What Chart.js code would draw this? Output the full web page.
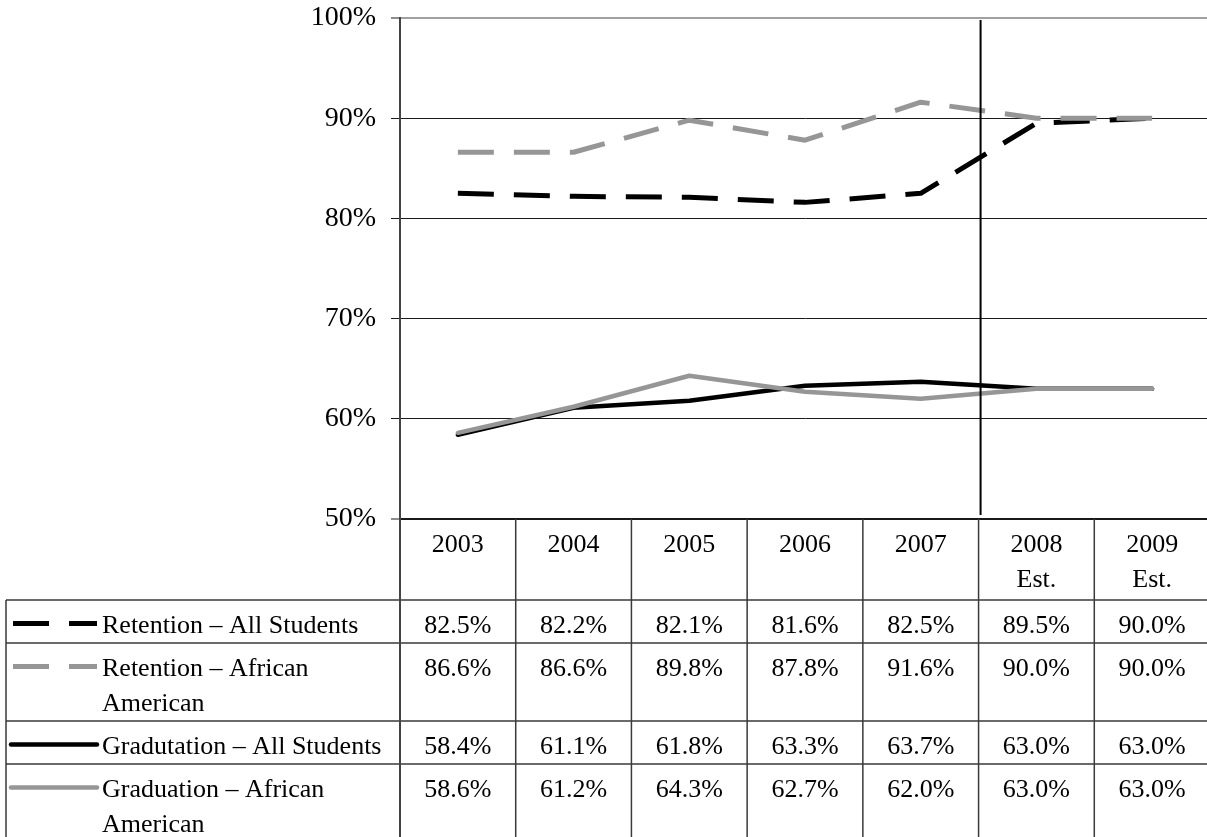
<!DOCTYPE html>
<html>
<head>
<meta charset="utf-8">
<script src="https://cdn.jsdelivr.net/npm/chart.js@4/dist/chart.umd.min.js"></script>
<style>
  html, body { margin: 0; padding: 0; overflow: hidden; background: #fff; }
  canvas { display: block; }
</style>
</head>
<body>
<canvas id="chart" width="1210" height="837"></canvas>
<script>
// Years shown on the category axis (estimates are split over two lines)
const categoryLabels = [['2003'], ['2004'], ['2005'], ['2006'], ['2007'], ['2008', 'Est.'], ['2009', 'Est.']];
const firstEstimateIndex = 5;

// Rates in percent
const retentionAll = [82.5, 82.2, 82.1, 81.6, 82.5, 89.5, 90.0];
const retentionAfricanAmerican = [86.6, 86.6, 89.8, 87.8, 91.6, 90.0, 90.0];
const graduationAll = [58.4, 61.1, 61.8, 63.3, 63.7, 63.0, 63.0];
const graduationAfricanAmerican = [58.6, 61.2, 64.3, 62.7, 62.0, 63.0, 63.0];

const seriesNames = [
  'Retention – All Students',
  'Retention – African American',
  'Gradutation – All Students',
  'Graduation – African American'
];

// Value axis
const yMin = 50;
const yMax = 100;
const yStep = 10;

const FONT_FAMILY = "'Liberation Serif', 'Times New Roman', serif";
const FONT_SIZE = 26;
const TICK_FONT_SIZE = 28;
const LINE_H = 35;
const BLACK = '#000000';
const GREY = '#969696';
const RULE = '#3a3a3a';

Chart.defaults.font.family = FONT_FAMILY;
Chart.defaults.font.size = FONT_SIZE;
Chart.defaults.color = BLACK;

function wrapText(ctx, text, maxWidth) {
  const words = text.split(' ');
  const lines = [];
  let line = '';
  for (const w of words) {
    const test = line ? line + ' ' + w : w;
    if (line && ctx.measureText(test).width > maxWidth) {
      lines.push(line);
      line = w;
    } else {
      line = test;
    }
  }
  if (line) lines.push(line);
  return lines;
}

// Vertical rule separating actual years from estimates
const estimateDivider = {
  id: 'estimateDivider',
  afterDatasetsDraw(chart) {
    const { ctx, chartArea, scales: { x } } = chart;
    const xPos = (x.getPixelForValue(firstEstimateIndex - 1) + x.getPixelForValue(firstEstimateIndex)) / 2 + 2;
    ctx.save();
    ctx.strokeStyle = BLACK;
    ctx.lineWidth = 2;
    ctx.beginPath();
    ctx.moveTo(xPos, chartArea.top + 2);
    ctx.lineTo(xPos, chartArea.bottom - 4);
    ctx.stroke();
    ctx.restore();
  }
};

// Data table under the plot: year header, legend keys and values
const dataTable = {
  id: 'dataTable',
  afterDraw(chart) {
    const { ctx, chartArea, scales: { x } } = chart;
    const tableLeft = 6;
    const axisX = chartArea.left;
    const right = chart.width;
    const top = chartArea.bottom;
    const textX = 102;

    ctx.save();
    ctx.font = FONT_SIZE + 'px ' + FONT_FAMILY;
    ctx.fillStyle = BLACK;
    ctx.textBaseline = 'alphabetic';

    // header row with years
    const headerLines = Math.max(...categoryLabels.map(l => l.length));
    ctx.textAlign = 'center';
    categoryLabels.forEach((lines, i) => {
      const cx = x.getPixelForValue(i);
      lines.forEach((t, j) => ctx.fillText(t, cx, top + 33 + LINE_H * j));
    });
    let y = top + 11 + LINE_H * headerLines;
    const rowLines = [y];

    chart.data.datasets.forEach((ds) => {
      const lines = wrapText(ctx, ds.label, axisX - textX - 8);
      const h = 8 + LINE_H * lines.length;

      // legend key
      ctx.save();
      ctx.strokeStyle = ds.borderColor;
      ctx.lineWidth = ds.borderWidth;
      ctx.setLineDash(ds.borderDash || []);
      ctx.lineCap = ds.borderDash ? 'butt' : 'round';
      ctx.beginPath();
      const sx = ds.borderDash ? 13 : 11;
      ctx.moveTo(sx, y + 23.5);
      ctx.lineTo(97, y + 23.5);
      ctx.stroke();
      ctx.restore();

      // series name
      ctx.textAlign = 'left';
      lines.forEach((t, j) => ctx.fillText(t, textX, y + 33 + LINE_H * j));

      // values
      ctx.textAlign = 'center';
      ds.data.forEach((v, i) => {
        ctx.fillText(v.toFixed(1) + '%', x.getPixelForValue(i), y + 33);
      });

      y += h;
      rowLines.push(y);
    });

    // table rules
    ctx.strokeStyle = RULE;
    ctx.lineWidth = 1.5;
    ctx.beginPath();
    rowLines.forEach(ry => {
      if (ry > chart.height) return;
      ctx.moveTo(tableLeft, ry);
      ctx.lineTo(right, ry);
    });
    ctx.moveTo(tableLeft, rowLines[0]);
    ctx.lineTo(tableLeft, chart.height);
    for (let i = 1; i < categoryLabels.length; i++) {
      const bx = (x.getPixelForValue(i - 1) + x.getPixelForValue(i)) / 2;
      ctx.moveTo(bx, top);
      ctx.lineTo(bx, chart.height);
    }
    ctx.stroke();

    // value axis continues down through the table
    ctx.strokeStyle = '#444444';
    ctx.lineWidth = 2;
    ctx.beginPath();
    ctx.moveTo(axisX, top);
    ctx.lineTo(axisX, chart.height);
    ctx.stroke();
    ctx.restore();
  }
};

const dashed = [36, 20];

new Chart(document.getElementById('chart'), {
  type: 'line',
  data: {
    labels: categoryLabels,
    datasets: [
      { label: seriesNames[0], data: retentionAll, borderColor: BLACK, borderWidth: 5, borderDash: dashed, order: 2 },
      { label: seriesNames[1], data: retentionAfricanAmerican, borderColor: GREY, borderWidth: 5, borderDash: dashed, order: 1 },
      { label: seriesNames[2], data: graduationAll, borderColor: BLACK, borderWidth: 4.5, borderCapStyle: 'round', order: 4 },
      { label: seriesNames[3], data: graduationAfricanAmerican, borderColor: GREY, borderWidth: 4.5, borderCapStyle: 'round', order: 3 }
    ]
  },
  options: {
    responsive: false,
    animation: false,
    events: [],
    layout: { padding: { top: 18, left: 0, right: 0, bottom: 0 } },
    elements: {
      point: { radius: 0 },
      line: { tension: 0, fill: false, borderJoinStyle: 'round' }
    },
    plugins: { legend: { display: false }, tooltip: { enabled: false } },
    scales: {
      x: {
        offset: true,
        grid: { display: false },
        border: { display: false },
        ticks: { display: false },
        afterFit(scale) {
          scale.height = 837 - 519;
          scale.paddingLeft = 0;
          scale.paddingRight = 0;
        }
      },
      y: {
        min: yMin,
        max: yMax,
        afterFit(scale) {
          scale.width = 400;
          scale.paddingTop = 0;
          scale.paddingBottom = 0;
        },
        border: { display: true, color: '#444444', width: 2 },
        grid: {
          color: (c) => (c.tick && c.tick.value === yMax ? '#a0a0a0' : '#1a1a1a'),
          lineWidth: (c) => (c.tick && (c.tick.value === yMax || c.tick.value === yMin) ? 2 : 1),
          tickColor: '#1a1a1a',
          tickLength: 9,
          tickWidth: 1
        },
        ticks: {
          stepSize: yStep,
          padding: 15,
          color: BLACK,
          font: { size: TICK_FONT_SIZE, family: FONT_FAMILY },
          callback: (v) => v + '%'
        }
      }
    }
  },
  plugins: [estimateDivider, dataTable]
});
</script>
</body>
</html>
